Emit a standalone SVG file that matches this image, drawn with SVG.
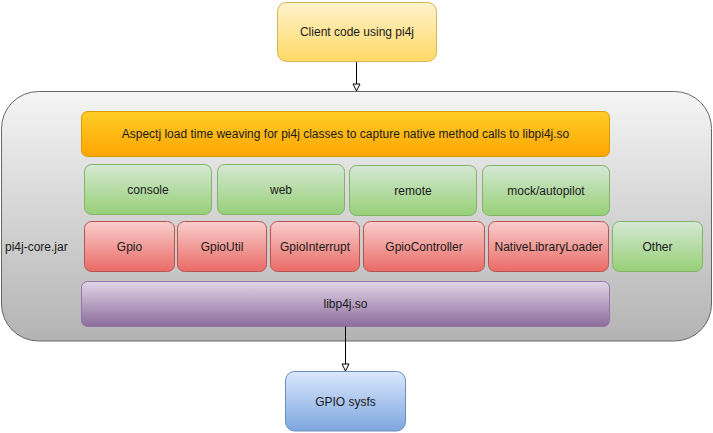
<svg xmlns="http://www.w3.org/2000/svg" width="713" height="433" viewBox="0 0 713 433">
<defs>
<linearGradient id="gY" x1="0" y1="0" x2="0" y2="1"><stop offset="0" stop-color="#fff2cc"/><stop offset="1" stop-color="#ffd966"/></linearGradient>
<linearGradient id="gGr" x1="0" y1="0" x2="0" y2="1"><stop offset="0" stop-color="#f5f5f5"/><stop offset="1" stop-color="#b3b3b3"/></linearGradient>
<linearGradient id="gO" x1="0" y1="0" x2="0" y2="1"><stop offset="0" stop-color="#ffcd28"/><stop offset="1" stop-color="#ffa500"/></linearGradient>
<linearGradient id="gG" x1="0" y1="0" x2="0" y2="1"><stop offset="0" stop-color="#d5e8d4"/><stop offset="1" stop-color="#97d077"/></linearGradient>
<linearGradient id="gR" x1="0" y1="0" x2="0" y2="1"><stop offset="0" stop-color="#f8cecc"/><stop offset="1" stop-color="#ea6b66"/></linearGradient>
<linearGradient id="gP" x1="0" y1="0" x2="0" y2="1"><stop offset="0" stop-color="#e1d5e7"/><stop offset="1" stop-color="#8c6c9c"/></linearGradient>
<linearGradient id="gB" x1="0" y1="0" x2="0" y2="1"><stop offset="0" stop-color="#dae8fc"/><stop offset="1" stop-color="#7ea6e0"/></linearGradient>
<marker id="arr" markerWidth="10" markerHeight="10" refX="8" refY="5" orient="auto" markerUnits="userSpaceOnUse" viewBox="0 0 10 10">
<path d="M1,1.5 L8,5 L1,8.5 Z" fill="#ffffff" stroke="#000000" stroke-width="1"/>
</marker>
</defs>
<style>
text{font-family:"Liberation Sans",Arial,sans-serif;font-size:12px;fill:#1a1a1a;text-anchor:middle;dominant-baseline:central}
.y{fill:url(#gY);stroke:#d6b656}
.o{fill:url(#gO);stroke:#d79b00}
.g{fill:url(#gG);stroke:#82b366}
.r{fill:url(#gR);stroke:#b85450}
.p{fill:url(#gP);stroke:#9673a6}
.b{fill:url(#gB);stroke:#6c8ebf}
.c{fill:url(#gGr);stroke:#666666}
.e{fill:none;stroke:#000000;stroke-width:1}
</style>
<g id="container">
<rect class="c" x="1.5" y="91.5" width="710" height="249.5" rx="37" ry="37"/>
<text x="5" y="246.5" style="text-anchor:start">pi4j-core.jar</text>
</g>
<g id="client"><rect class="y" x="277.5" y="2.5" width="159" height="59" rx="9"/><text x="357" y="32">Client code using pi4j</text></g>
<g id="aspectj"><rect class="o" x="81.5" y="111.5" width="528" height="45" rx="6"/><text x="345.5" y="134">Aspectj load time weaving for pi4j classes to capture native method calls to libpi4j.so</text></g>
<g id="console"><rect class="g" x="84.5" y="164.5" width="127" height="50" rx="7"/><text x="148" y="190">console</text></g>
<g id="web"><rect class="g" x="217.5" y="164.5" width="127" height="50" rx="7"/><text x="281" y="190">web</text></g>
<g id="remote"><rect class="g" x="349.5" y="165.5" width="127" height="50" rx="7"/><text x="413" y="191">remote</text></g>
<g id="mock"><rect class="g" x="482.5" y="165.5" width="127" height="50" rx="7"/><text x="546" y="191">mock/autopilot</text></g>
<g id="gpio"><rect class="r" x="84.5" y="221.5" width="90" height="50" rx="7"/><text x="129.5" y="247">Gpio</text></g>
<g id="gpioutil"><rect class="r" x="177.5" y="221.5" width="89" height="50" rx="7"/><text x="222" y="247">GpioUtil</text></g>
<g id="gpiointerrupt"><rect class="r" x="270.5" y="221.5" width="89" height="50" rx="7"/><text x="315" y="247">GpioInterrupt</text></g>
<g id="gpiocontroller"><rect class="r" x="363.5" y="221.5" width="121" height="50" rx="7"/><text x="424" y="247">GpioController</text></g>
<g id="nativeloader"><rect class="r" x="488.5" y="221.5" width="120" height="50" rx="7"/><text x="548.5" y="247">NativeLibraryLoader</text></g>
<g id="other"><rect class="g" x="612.5" y="221.5" width="90" height="50" rx="7"/><text x="657.5" y="247">Other</text></g>
<g id="libp4j"><rect class="p" x="81.5" y="281.5" width="528" height="45" rx="6"/><text x="345.5" y="304">libp4j.so</text></g>
<g id="sysfs"><rect class="b" x="285.5" y="371.5" width="120" height="59.5" rx="9"/><text x="345.5" y="402">GPIO sysfs</text></g>
<g id="connectors">
<path class="e" d="M356.5,62 L356.5,91" marker-end="url(#arr)"/>
<path class="e" d="M345.5,326.5 L345.5,371" marker-end="url(#arr)"/>
</g>
</svg>
